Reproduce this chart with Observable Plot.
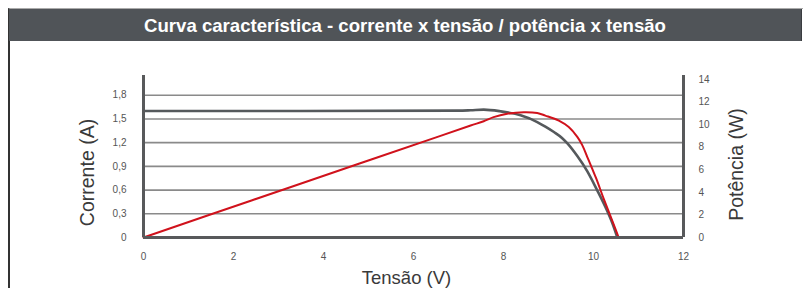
<!DOCTYPE html>
<html>
<head>
<meta charset="utf-8">
<script src="https://cdn.jsdelivr.net/npm/d3@7"></script>
<script src="https://cdn.jsdelivr.net/npm/@observablehq/plot@0.6"></script>
<style>
  html, body { margin: 0; padding: 0; background: #fff; }
  #wrap { position: relative; width: 803px; height: 288px; overflow: hidden; font-family: "Liberation Sans", Arial, sans-serif; }
  #panel { position: absolute; left: 8px; top: 8px; width: 805px; height: 300px; border-left: 2px solid #333; border-top: 1px solid #aaa; box-sizing: border-box; }
  #title { position: absolute; left: 9px; top: 9px; width: 793px; height: 32px; background: #505458; color: #fff; font-weight: bold; font-size: 18.6px; line-height: 33px; text-align: center; border-right: 1px solid #3a3d40; box-sizing: border-box; }
  #chart { position: absolute; left: 0; top: 0; }
</style>
</head>
<body>
<div id="wrap">
  <div id="panel"></div>
  <div id="chart"></div>
  <div id="title">Curva característica - corrente x tensão / potência x tensão</div>
</div>
<script>
// Tensão (V) and Corrente (A) — I-V curve
const ivVolts = [0, 3.5, 7.0, 7.27, 7.56, 7.93, 8.38, 8.75, 8.93, 9.12, 9.30, 9.42, 9.64, 9.86, 10.08, 10.27, 10.42, 10.53];
const ivAmps  = [1.60, 1.60, 1.605, 1.61, 1.618, 1.597, 1.546, 1.461, 1.403, 1.335, 1.26, 1.19, 1.03, 0.84, 0.60, 0.38, 0.18, 0];
// Tensão (V) and Potência (W) — P-V curve
const pvVolts = [0, 2.4, 4.8, 6.6, 7.27, 7.56, 7.78, 8.08, 8.45, 8.75, 8.93, 9.23, 9.45, 9.64, 9.75, 9.86, 9.97, 10.06, 10.23, 10.42, 10.56];
const pvWatts = [0, 3.28, 6.55, 9.0, 9.92, 10.30, 10.66, 10.96, 11.10, 11.03, 10.80, 10.35, 9.78, 8.91, 8.18, 7.15, 6.11, 5.23, 3.4, 1.45, 0];
// tick labels and axis titles
const xTicks = [0, 2, 4, 6, 8, 10, 12];
const ampTicks = [0, 0.3, 0.6, 0.9, 1.2, 1.5, 1.8];
const wattTicks = [0, 2, 4, 6, 8, 10, 12, 14];
const xTitle = "Tensão (V)";
const leftTitle = "Corrente (A)";
const rightTitle = "Potência (W)";
const wattPerAmp = 7; // right axis: 14 W aligns with 2.0 A

const iv = ivVolts.map((v, i) => ({v, a: ivAmps[i]}));
const pv = pvVolts.map((v, i) => ({v, w: pvWatts[i]}));
const fmtA = d => d === 0 ? "0" : d.toFixed(1).replace(".", ",");

const axisColor = "#58595b";
const titleFont = {fill: "#3a3a3a", fontWeight: 300, textAnchor: "middle", lineAnchor: "middle"};
const chart = Plot.plot({
  width: 803,
  height: 288,
  marginLeft: 143,
  marginRight: 120,
  marginTop: 75,
  marginBottom: 51,
  style: {background: "transparent", fontFamily: "'Liberation Sans', Arial, sans-serif"},
  x: {domain: [0, 12]},
  y: {domain: [0, 2.05]},
  marks: [
    Plot.ruleY(ampTicks.filter(d => d > 0), {x1: 0, x2: 12, stroke: "#8a8a8a", strokeWidth: 1.6}),
    Plot.axisX(xTicks, {tickSize: 0, tickPadding: 15, fontSize: 10, color: "#555", label: null}),
    Plot.axisY(ampTicks, {anchor: "left", tickSize: 0, tickPadding: 17, fontSize: 10, color: "#555", tickFormat: fmtA, label: null}),
    Plot.axisY(wattTicks.map(w => w / wattPerAmp), {anchor: "right", tickSize: 0, tickPadding: 15, fontSize: 10, color: "#555", tickFormat: d => String(Math.round(d * wattPerAmp)), label: null}),
    Plot.text([xTitle], {text: d => d, frameAnchor: "bottom", dx: -7, dy: 41, fontSize: 18.5, ...titleFont}),
    Plot.text([leftTitle], {text: d => d, frameAnchor: "left", rotate: -90, dx: -56, dy: 16, fontSize: 19.5, ...titleFont}),
    Plot.text([rightTitle], {text: d => d, frameAnchor: "right", rotate: -90, dx: 53, dy: 8, fontSize: 19.5, ...titleFont}),
    Plot.line(iv, {x: "v", y: "a", stroke: "#55595c", strokeWidth: 2.6, curve: "monotone-x"}),
    Plot.line(pv, {x: "v", y: d => d.w / wattPerAmp, stroke: "#d0121c", strokeWidth: 2, curve: "catmull-rom"}),
    Plot.ruleY([0], {x1: 0, x2: 12, stroke: axisColor, strokeWidth: 3}),
    Plot.ruleX([0, 12], {y1: 0, y2: 2.05, stroke: axisColor, strokeWidth: 3})
  ]
});
document.getElementById("chart").appendChild(chart);
</script>
</body>
</html>
